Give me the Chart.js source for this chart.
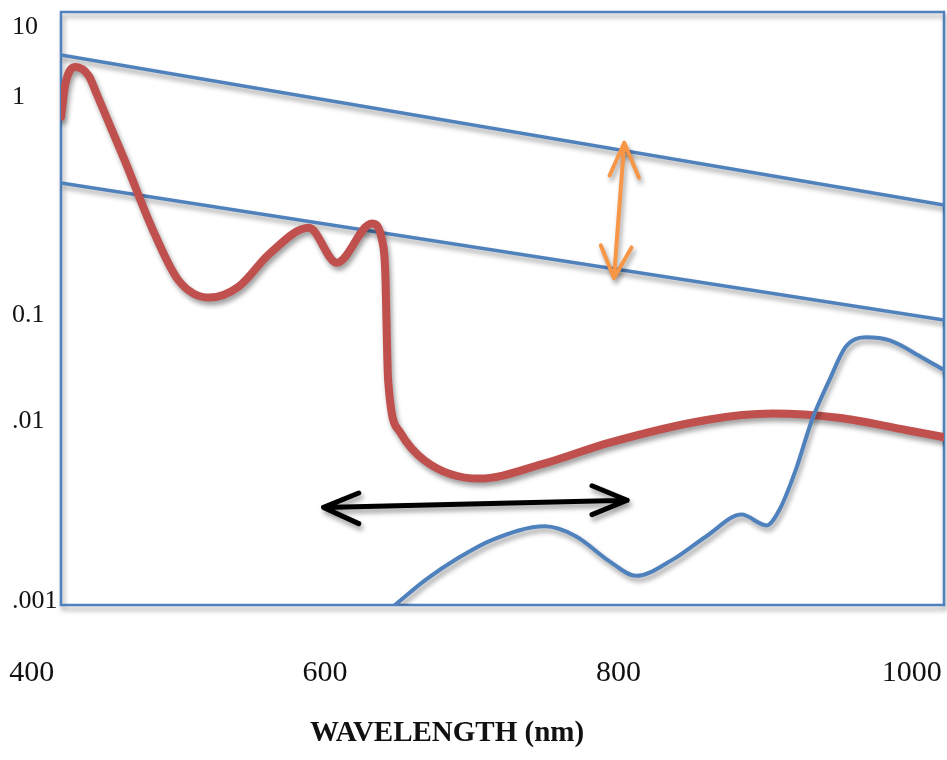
<!DOCTYPE html>
<html>
<head>
<meta charset="utf-8">
<title>Wavelength sketch</title>
<script src="https://cdn.jsdelivr.net/npm/chart.js@4.4.1/dist/chart.umd.min.js"></script>
<style>
  html, body { margin: 0; padding: 0; background: #fff; }
  #wrap { width: 947px; height: 760px; }
</style>
</head>
<body>
<div id="wrap"><canvas id="chart"></canvas></div>
<script>
// ---- values: x = wavelength (nm), y = log10 of the plotted quantity ----
const xTicks = [400, 600, 800, 1000];
const xTitle = 'WAVELENGTH (nm)';
const yTickValues = [-3, -2, -1, 0, 1];
const yTickLabels = ['.001', '.01', '0.1', '1', '10'];

const redNm  = [420, 423, 430, 439, 444, 464, 482, 500, 521, 541, 562, 589, 608, 632, 639, 641, 643, 651, 668,
                705, 748, 794, 860, 905, 950, 996, 1022];
const redLog = [-0.09, 0.19, 0.43, 0.30, 0.06, -0.30, -0.60, -0.84, -0.92, -0.87, -0.72, -0.60, -0.76, -0.58, -0.66, -0.79, -1.61, -2.06, -2.22,
                -2.32, -2.24, -2.12, -1.99, -1.93, -1.97, -2.05, -2.09];

const blueNm  = [648, 669, 691, 714, 750, 771, 794, 812, 837, 860, 884, 901, 910, 921, 932, 944, 955, 969, 985, 1007, 1022];
const blueLog = [-3.02, -2.88, -2.76, -2.66, -2.585, -2.64, -2.78, -2.86, -2.77, -2.64, -2.52, -2.58, -2.49, -2.27, -1.99, -1.61, -1.30, -1.21, -1.24, -1.40, -1.52];

const edgeNm   = [420, 1022];
const upperLog = [0.60, -0.495];
const lowerLog = [-0.394, -1.047];

// arrows: barb, tip, barb, (gap), shaft, (gap), barb, tip, barb
const orangeArrowNm  = [794, 804, 814, 804, 804, 797, 797, 788, 797, 809];
const orangeArrowLog = [-0.36, -0.21, -0.37, null, -0.21, -0.83, null, -0.68, -0.83, -0.69];
const blackArrowNm   = [623, 599, 623, 599, 599, 806, 806, 782, 806, 782];
const blackArrowLog  = [-2.40, -2.48, -2.57, null, -2.48, -2.44, null, -2.36, -2.44, -2.52];

// ---- y scale: the sketch spaces its decades unevenly, so each labelled decade sits
// where the drawing put it (fraction of plot height, measured from the bottom) ----
const yTickPlacement = [0.0067, 0.3103, 0.4890, 0.8567, 0.9747];

function segmentFor(arr, v) {
  let i = 0;
  while (i < arr.length - 2 && v > arr[i + 1]) i++;
  return i;
}
function logToDecimal(v) {
  const t = yTickValues, d = yTickPlacement, i = segmentFor(t, v);
  return d[i] + (v - t[i]) * (d[i + 1] - d[i]) / (t[i + 1] - t[i]);
}
function decimalToLog(dec) {
  const t = yTickValues, d = yTickPlacement, i = segmentFor(d, dec);
  return t[i] + (dec - d[i]) * (t[i + 1] - t[i]) / (d[i + 1] - d[i]);
}

class SketchLogScale extends Chart.LinearScale {
  static id = 'sketchLog';
  buildTicks() {
    this.start = this.min;
    this.end = this.max;
    return yTickValues.map(v => ({ value: v }));
  }
  getPixelForValue(v) { return this.getPixelForDecimal(logToDecimal(v)); }
  getValueForPixel(p) { return decimalToLog(this.getDecimalForPixel(p)); }
}
Chart.register(SketchLogScale);

const pts = (xs, ys) => xs.map((x, i) => ({ x, y: ys[i] }));

// frame, drop shadows (office-style) and the hand-placed x labels
const sketchDecor = {
  id: 'sketchDecor',
  beforeDatasetsDraw(chart) {
    const { ctx, chartArea: a } = chart;
    ctx.save();
    ctx.shadowColor = 'rgba(0,0,0,0.38)';
    ctx.shadowBlur = 5;
    ctx.shadowOffsetX = 2;
    ctx.shadowOffsetY = 4;
    ctx.strokeStyle = '#4f81bd';
    ctx.lineWidth = 2.5;
    ctx.strokeRect(a.left, a.top, a.right - a.left, a.bottom - a.top);
  },
  afterDatasetsDraw(chart) { chart.ctx.restore(); },
  afterDraw(chart) {
    const { ctx } = chart, x = chart.scales.x;
    ctx.save();
    ctx.fillStyle = '#111';
    ctx.textAlign = 'center';
    ctx.textBaseline = 'middle';
    ctx.font = '30px "Liberation Serif"';
    xTicks.forEach(v => ctx.fillText(String(v), x.getPixelForValue(v), 673));
    ctx.font = 'bold 29px "Liberation Serif"';
    ctx.fillText(xTitle, 447, 734);
    ctx.restore();
  }
};

const straight = { borderCapStyle: 'round', borderJoinStyle: 'round', tension: 0 };
const smooth = { borderCapStyle: 'round', cubicInterpolationMode: 'monotone' };

new Chart(document.getElementById('chart'), {
  type: 'line',
  data: {
    datasets: [
      { label: 'black arrow', data: pts(blackArrowNm, blackArrowLog), borderColor: '#000', borderWidth: 5, order: 0, ...straight },
      { label: 'orange arrow', data: pts(orangeArrowNm, orangeArrowLog), borderColor: '#f79646', borderWidth: 4, order: 0, ...straight },
      { label: 'blue curve', data: pts(blueNm, blueLog), borderColor: '#4f81bd', borderWidth: 4, order: 1, ...smooth },
      { label: 'red curve', data: pts(redNm, redLog), borderColor: '#c0504d', borderWidth: 8, order: 2, ...smooth },
      { label: 'upper limit', data: pts(edgeNm, upperLog), borderColor: '#4f81bd', borderWidth: 3.5, order: 3 },
      { label: 'lower limit', data: pts(edgeNm, lowerLog), borderColor: '#4f81bd', borderWidth: 3.5, order: 3 }
    ]
  },
  options: {
    responsive: true,
    maintainAspectRatio: false,
    animation: false,
    events: [],
    layout: { padding: { left: 12, right: 3, top: 12, bottom: 155 } },
    elements: { point: { radius: 0 } },
    plugins: { legend: { display: false }, tooltip: { enabled: false } },
    scales: {
      x: { type: 'linear', min: 420, max: 1022, display: false },
      y: {
        type: 'sketchLog', min: -3.03, max: 1.22,
        grid: { display: false }, border: { display: false },
        afterFit: s => { s.width = 49; s.paddingTop = 0; s.paddingBottom = 0; },
        ticks: {
          autoSkip: false, crossAlign: 'far', padding: 0, color: '#111',
          font: { family: 'Liberation Serif', size: 26 },
          callback: (v, i) => yTickLabels[i]
        }
      }
    }
  },
  plugins: [sketchDecor]
});
</script>
</body>
</html>
